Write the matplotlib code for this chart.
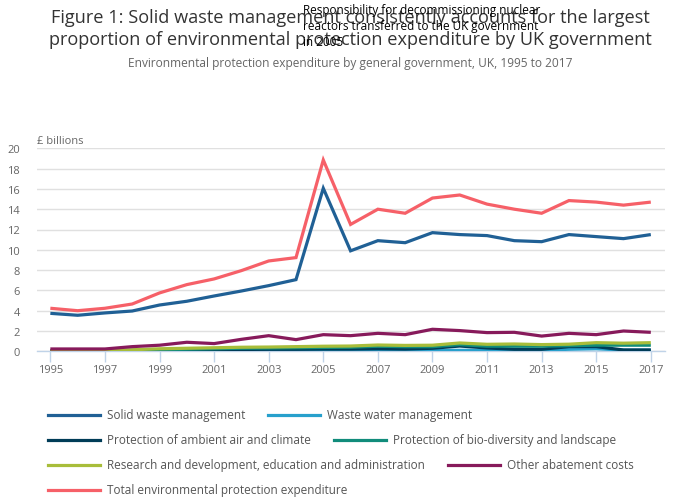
import matplotlib
matplotlib.use("Agg")
import matplotlib.pyplot as plt
from matplotlib.lines import Line2D

plt.rcParams['font.family'] = ['Open Sans', 'DejaVu Sans']

years = list(range(1995, 2018))
solid_waste = [3.74, 3.55, 3.78, 3.97, 4.56, 4.93, 5.45, 5.94, 6.47, 7.06, 16.06, 9.9,
               10.9, 10.7, 11.69, 11.5, 11.4, 10.9, 10.8, 11.5, 11.3, 11.1, 11.5]
waste_water = [0.02, 0.02, 0.03, 0.04, 0.05, 0.05, 0.06, 0.06, 0.07, 0.07, 0.08, 0.08,
               0.08, 0.08, 0.08, 0.1, 0.1, 0.1, 0.1, 0.2, 0.25, 0.12, 0.12]
air_climate = [0.05, 0.05, 0.05, 0.08, 0.1, 0.12, 0.15, 0.18, 0.2, 0.2, 0.22, 0.22,
               0.25, 0.22, 0.3, 0.52, 0.33, 0.2, 0.2, 0.46, 0.46, 0.13, 0.13]
biodiversity = [0.05, 0.05, 0.06, 0.1, 0.15, 0.2, 0.25, 0.3, 0.32, 0.35, 0.38, 0.4,
                0.5, 0.45, 0.45, 0.66, 0.5, 0.5, 0.5, 0.55, 0.6, 0.6, 0.6]
research = [0.05, 0.05, 0.08, 0.15, 0.25, 0.3, 0.35, 0.4, 0.42, 0.46, 0.5, 0.52,
            0.62, 0.58, 0.6, 0.82, 0.69, 0.72, 0.66, 0.7, 0.85, 0.8, 0.85]
other_abatement = [0.23, 0.23, 0.23, 0.46, 0.6, 0.89, 0.76, 1.18, 1.54, 1.15, 1.64, 1.54,
                   1.77, 1.64, 2.17, 2.04, 1.84, 1.87, 1.5, 1.77, 1.64, 2.0, 1.87]
total = [4.24, 4.0, 4.24, 4.66, 5.75, 6.57, 7.13, 7.95, 8.9, 9.23, 18.85, 12.5,
         14.0, 13.6, 15.1, 15.4, 14.5, 14.0, 13.6, 14.85, 14.7, 14.4, 14.7]

series_names = ["Solid waste management", "Waste water management",
                "Protection of ambient air and climate", "Protection of bio-diversity and landscape",
                "Research and development, education and administration", "Other abatement costs",
                "Total environmental protection expenditure"]
series_values = [solid_waste, waste_water, air_climate, biodiversity, research, other_abatement, total]
colors = ["#206095", "#27A0CC", "#003C57", "#118C7B", "#A8BD3A", "#871A5B", "#F66068"]
x_ticks = list(range(1995, 2018, 2))
y_ticks = list(range(0, 21, 2))

fig = plt.figure(figsize=(7.0, 5.02), dpi=100)
W, H = 700, 502
ax = fig.add_axes([36.7 / W, 1 - 352.3 / H, (665 - 36.7) / W, 203 / H])

for name, vals, c in zip(series_names, series_values, colors):
    ax.plot(years, vals, color=c, lw=2.3, solid_joinstyle='miter', solid_capstyle='butt', zorder=3)

ax.set_xlim(1994.5, 2017.52)
ax.set_ylim(0, 20)
ax.set_xticks(x_ticks)
ax.set_yticks(y_ticks)
ax.grid(axis='y', color='#e0e0e0', lw=1)
ax.set_axisbelow(True)
for s in ['top', 'right', 'left']:
    ax.spines[s].set_visible(False)
ax.spines['bottom'].set_color('#c0d3e8')
ax.spines['bottom'].set_linewidth(1)
ax.tick_params(axis='x', colors='#c0d3e8', length=8, width=1, labelcolor='#666666', labelsize=8, pad=1)
ax.tick_params(axis='y', length=0, labelcolor='#666666', labelsize=8, pad=12)

fig.text(37 / W, 1 - 142 / H, "£ billions", color='#666666', fontsize=8, va='center', ha='left')

fig.text(0.5, 1 - 18 / H, "Figure 1: Solid waste management consistently accounts for the largest",
         ha='center', va='center', fontsize=13.1, color='#333333')
fig.text(0.5, 1 - 40 / H, "proportion of environmental protection expenditure by UK government",
         ha='center', va='center', fontsize=13.1, color='#333333')
fig.text(0.5, 1 - 64 / H, "Environmental protection expenditure by general government, UK, 1995 to 2017",
         ha='center', va='center', fontsize=8.6, color='#666666')
fig.text(303 / W, 1 - 4 / H,
         "Responsibility for decommissioning nuclear\nreactors transferred to the UK government\nin 2005",
         ha='left', va='top', fontsize=8.5, color='black', linespacing=1.3)

# legend (flow layout)
legend_pos = [(48, 416), (268, 416), (48, 441), (334, 441), (48, 466), (448, 466), (48, 491)]
for (lx, ly), name, c in zip(legend_pos, series_names, colors):
    fig.add_artist(Line2D([lx / W, (lx + 52) / W], [1 - ly / H, 1 - ly / H], color=c, lw=2.3,
                          transform=fig.transFigure))
    fig.text((lx + 59) / W, 1 - ly / H, name, ha='left', va='center', fontsize=8.5, color='#555555')

fig.savefig("out.png", dpi=100, facecolor='white')
